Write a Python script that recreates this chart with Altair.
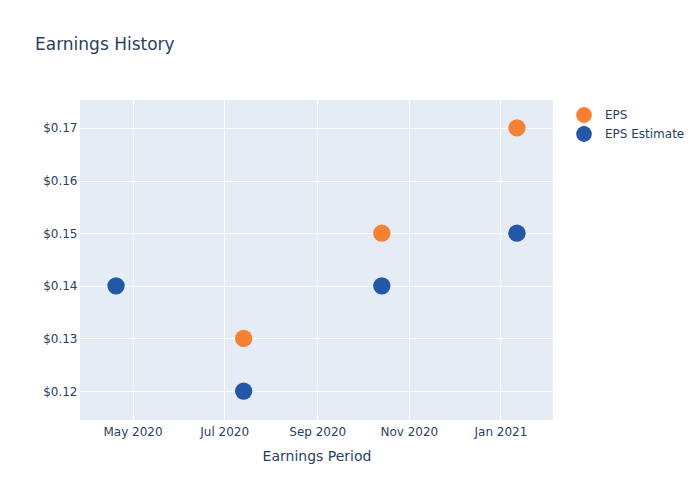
import altair as alt
import pandas as pd

dates = ["2020-04-20", "2020-07-14", "2020-10-14", "2021-01-12"]
eps = [None, 0.13, 0.15, 0.17]
eps_est = [0.14, 0.12, 0.14, 0.15]

rows = []
for d, e, s in zip(dates, eps, eps_est):
    if e is not None:
        rows.append({"date": d, "value": e, "series": "EPS"})
    rows.append({"date": d, "value": s, "series": "EPS Estimate"})
df = pd.DataFrame(rows)

font = "DejaVu Sans"
fc = "#2a3f5f"

tick_vals = [
    alt.DateTime(year=2020, month=5, date=1),
    alt.DateTime(year=2020, month=7, date=1),
    alt.DateTime(year=2020, month=9, date=1),
    alt.DateTime(year=2020, month=11, date=1),
    alt.DateTime(year=2021, month=1, date=1),
]

chart = alt.Chart(df).mark_circle(size=300, opacity=1).encode(
    x=alt.X(
        "date:T",
        title="Earnings Period",
        scale=alt.Scale(domain=["2020-03-27", "2021-02-05"]),
        axis=alt.Axis(values=tick_vals, format="%b %Y", labelFlush=False,
                      titlePadding=12, labelPadding=6),
    ),
    y=alt.Y(
        "value:Q",
        title=None,
        scale=alt.Scale(domain=[0.1145, 0.1753], nice=False, zero=False),
        axis=alt.Axis(values=[0.12, 0.13, 0.14, 0.15, 0.16, 0.17], format="$.2f",
                      labelPadding=3),
    ),
    color=alt.Color(
        "series:N",
        scale=alt.Scale(domain=["EPS", "EPS Estimate"], range=["#f58233", "#2357a7"]),
        legend=alt.Legend(title=None, orient="none", legendX=495, legendY=6,
                          symbolSize=250, symbolType="circle", labelFontSize=12,
                          labelColor=fc, labelFont=font, rowPadding=2, labelOffset=12,
                          labelLimit=200),
    ),
).properties(
    width=473,
    height=320,
    title=alt.TitleParams("Earnings History", anchor="start", frame="group",
                          dx=-45, offset=46, fontSize=17, font=font, color=fc,
                          fontWeight="normal"),
    autosize=alt.AutoSizeParams(type="none"),
    padding={"left": 72, "top": 92, "right": 139, "bottom": 72},
).configure_view(
    fill="#e5ecf6", stroke=None
).configure_axis(
    grid=True, gridColor="white", gridWidth=1, domain=False, ticks=False,
    labelFont=font, labelFontSize=12, labelColor=fc,
    titleFont=font, titleFontSize=14, titleColor=fc, titleFontWeight="normal",
)

chart.save("out.html", embed_options={"renderer": "svg", "actions": False})
